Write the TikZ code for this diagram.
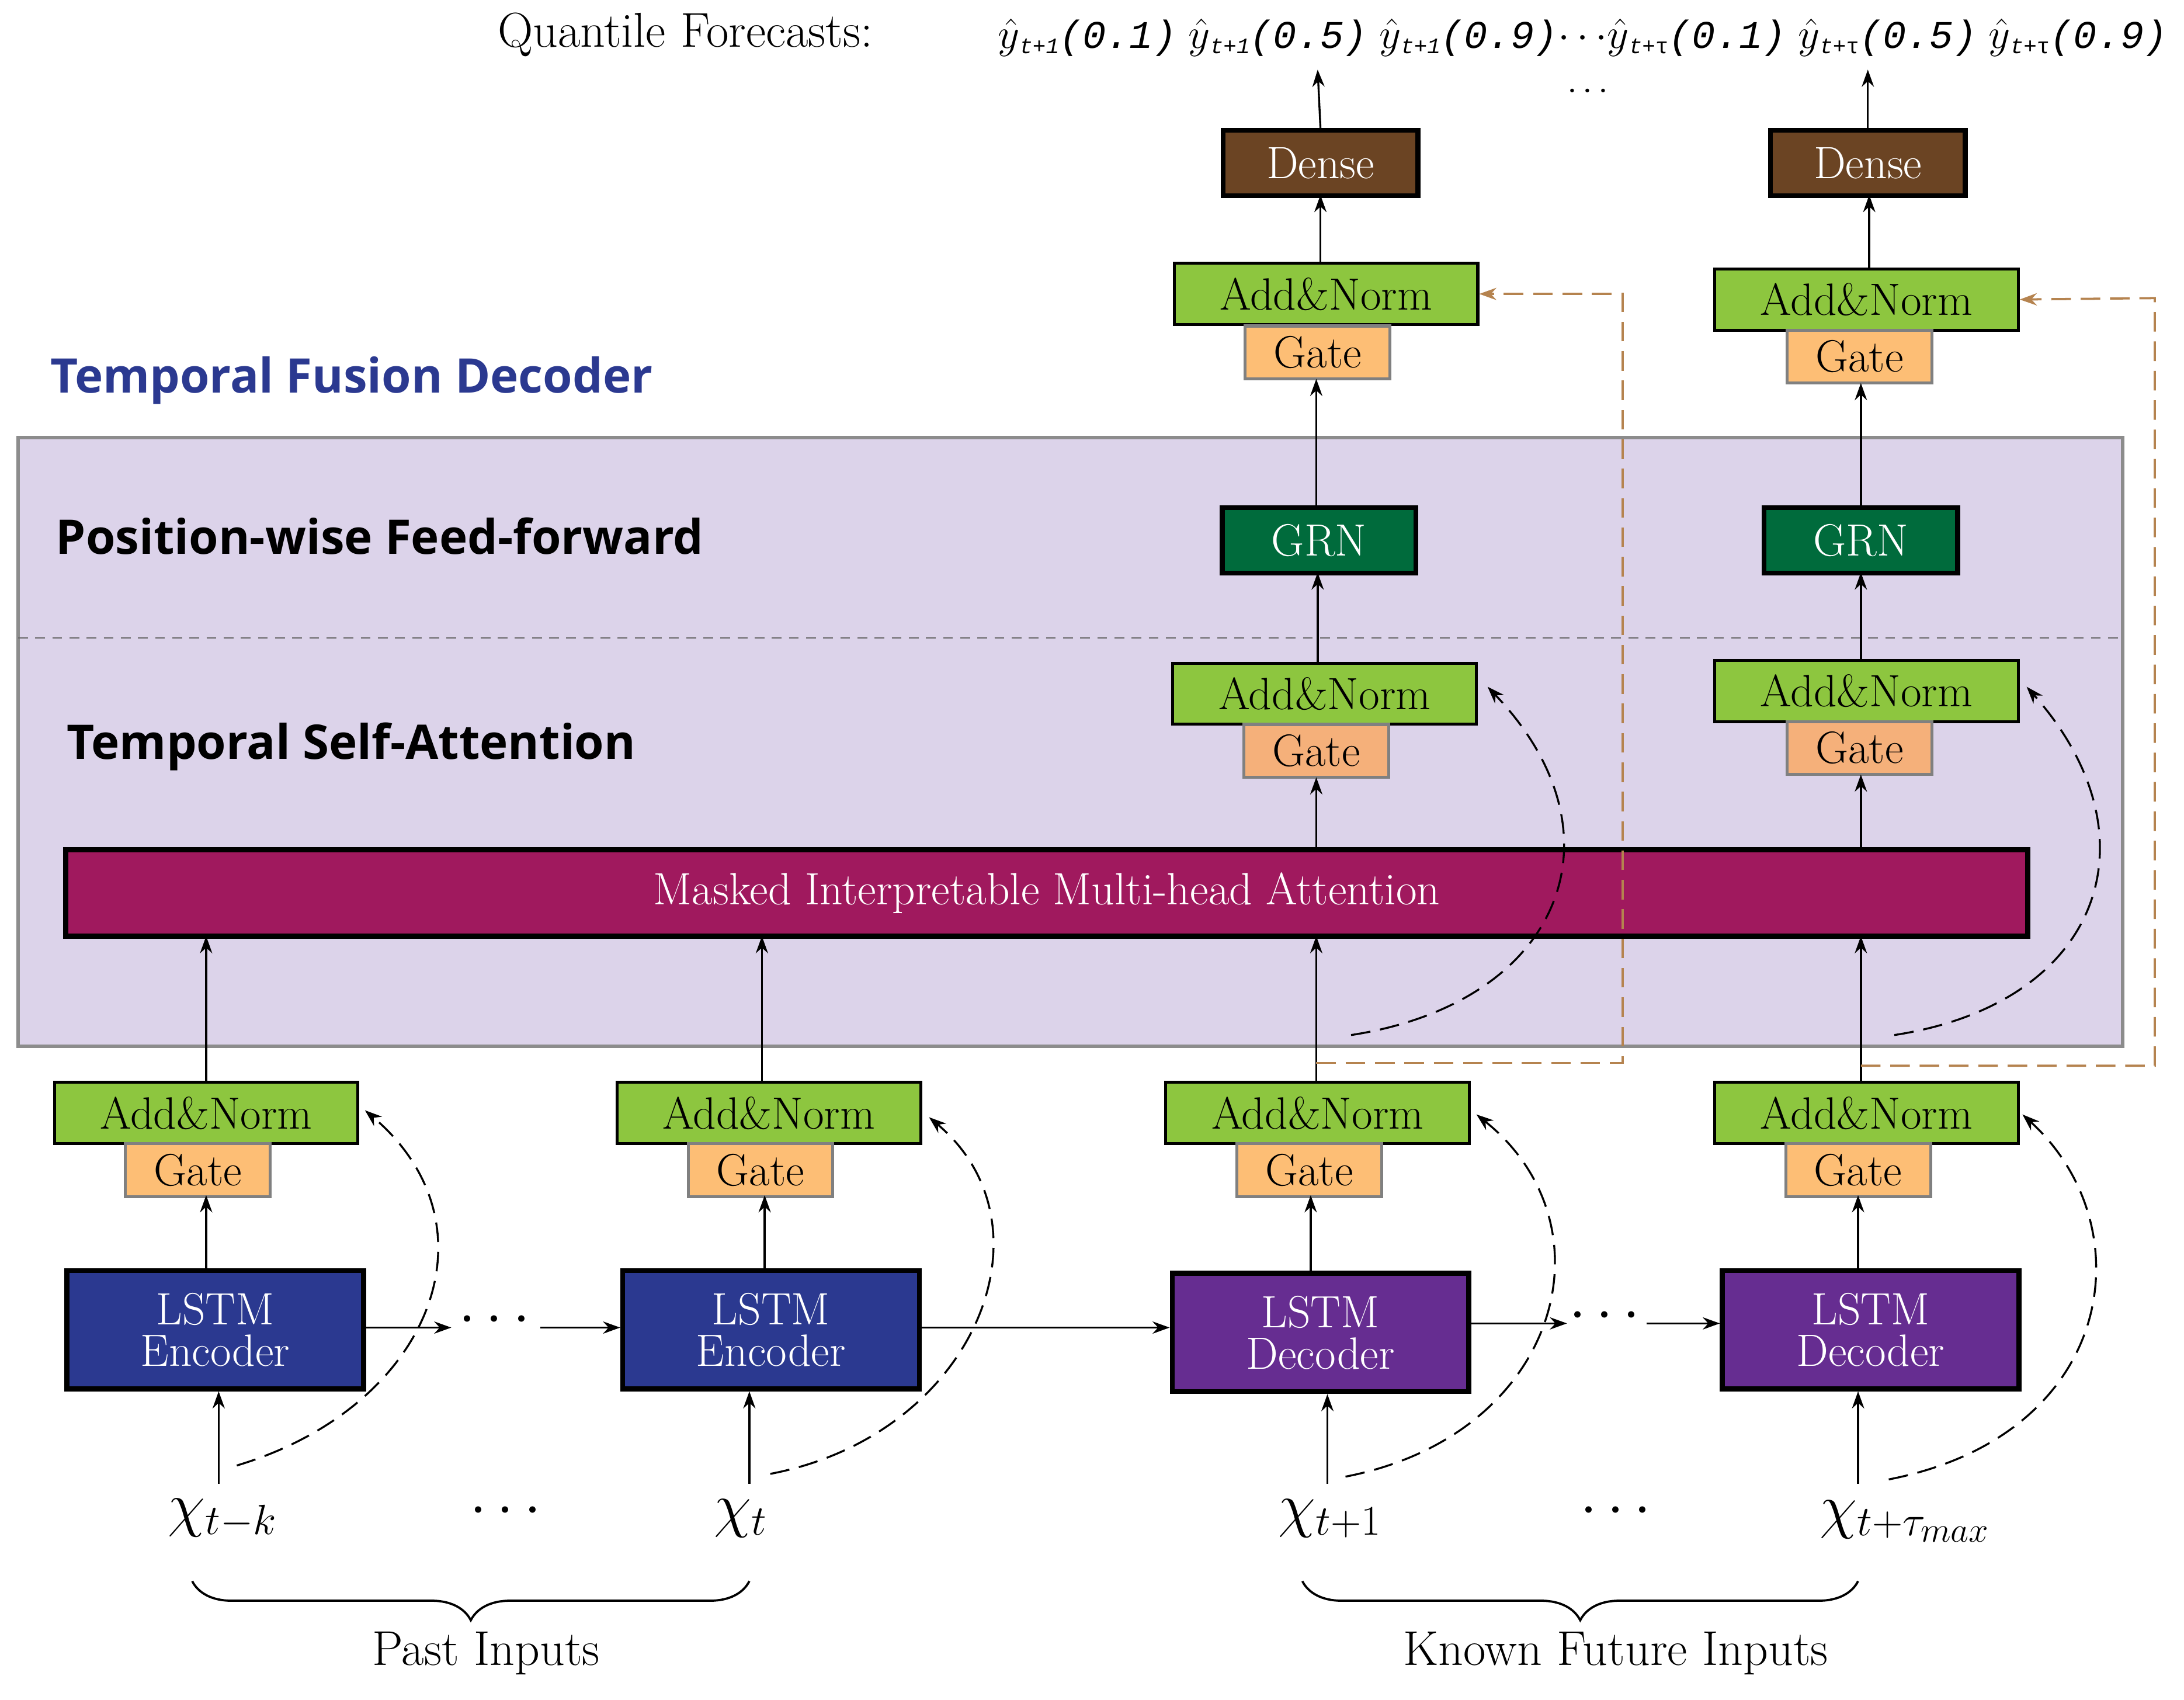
\documentclass[tikz,border=0pt]{standalone}
\usepackage{fontspec}
\newfontfamily\hsans{Open Sans}
\newfontfamily\mono{Liberation Mono}
\usetikzlibrary{decorations.pathreplacing,arrows.meta}
\definecolor{lav}{HTML}{DCD3EA}
\definecolor{angreen}{HTML}{8DC63F}
\definecolor{gateor}{HTML}{FDBE75}
\definecolor{gateor2}{HTML}{F5B07A}
\definecolor{densebr}{HTML}{6B4423}
\definecolor{grngr}{HTML}{006B3C}
\definecolor{attn}{HTML}{A0195E}
\definecolor{encb}{HTML}{2B3990}
\definecolor{decp}{HTML}{662D91}
\definecolor{tfd}{HTML}{2B3990}
\definecolor{skip}{HTML}{B5834F}
\tikzset{
 box/.style={draw=black,line width=1.2pt,inner sep=0pt,align=center,font=\fontsize{18.5}{20}\selectfont},
 an/.style={box,fill=angreen,minimum width=4.36cm,minimum height=0.88cm},
 gate/.style={box,draw=gray,fill=gateor,minimum width=2.08cm,minimum height=0.76cm},
 dense/.style={box,fill=densebr,text=white,line width=2pt,minimum width=2.8cm,minimum height=0.94cm},
 grn/.style={box,fill=grngr,text=white,line width=2pt,minimum width=2.78cm,minimum height=0.94cm},
 lstm/.style={box,text=white,line width=2pt,minimum width=4.26cm,minimum height=1.7cm,font=\fontsize{18.5}{17}\selectfont},
 arr/.style={-{Stealth[length=7pt,width=5pt]},line width=0.8pt},
 darr/.style={-{Stealth[length=7pt,width=5pt]},line width=0.8pt,dash pattern=on 8pt off 4pt},
 oarr/.style={-{Stealth[length=7pt,width=5pt]},line width=0.9pt,draw=skip,dash pattern=on 8pt off 4pt},
 head/.style={font=\hsans\bfseries\fontsize{19.5}{22}\selectfont,anchor=west},
 xin/.style={font=\fontsize{27}{28}\selectfont},
 lab/.style={font=\fontsize{20}{22}\selectfont},
 brc/.style={decorate,decoration={brace,amplitude=16pt,mirror},line width=0.9pt}
}
\newcommand{\yh}[2]{$\hat{y}$\raisebox{-0.3ex}{\fontsize{9}{10}\selectfont\mono\itshape #1}{\mono\itshape(#2)}}
\begin{document}
\begin{tikzpicture}[x=0.02cm,y=-0.02cm]
\useasboundingbox (0,0) rectangle (1568,1220);
% background panel
\draw[fill=lav,draw=gray!90,line width=1.5pt] (13,314) rectangle (1524,751);
\draw[dash pattern=on 4pt off 3pt,gray!80!black,line width=0.6pt] (13,458) -- (1524,458);
\node[head,text=tfd] (tfdl) at (30,273) {Temporal Fusion Decoder};
\node[head] (pwff) at (34,385) {Position-wise Feed-forward};
\node[head] (tsa) at (42,536) {Temporal Self-Attention};
% top text
\node[lab] (qf) at (492,25) {Quantile Forecasts:};
\node[font=\fontsize{16}{18}\selectfont,anchor=west,inner sep=0pt] (fc) at (716,27) {\yh{t+1}{0.1}\ \yh{t+1}{0.5}\ \yh{t+1}{0.9}$\cdots$\yh{t+\textup{\char"03C4}}{0.1}\ \yh{t+\textup{\char"03C4}}{0.5}\ \yh{t+\textup{\char"03C4}}{0.9}};
\node[font=\fontsize{14}{16}\selectfont] (tdots) at (1140,66) {$\cdots$};
\coordinate (o1) at (946,50);
\coordinate (o2) at (1341,50);
% dense
\node[dense] (d1) at (948,117) {Dense};
\node[dense] (d2) at (1341,117) {Dense};
% top add norm
\node[an] (ta1) at (952,211) {Add\&Norm};
\node[gate] (tg1) at (946,253) {Gate};
\node[an] (ta2) at (1340,215) {Add\&Norm};
\node[gate] (tg2) at (1335,256) {Gate};
% GRN
\node[grn] (g1) at (947,388) {GRN};
\node[grn] (g2) at (1336,388) {GRN};
% mid add norm
\node[an] (ma1) at (951,498) {Add\&Norm};
\node[gate,fill=gateor2] (mg1) at (945,539) {Gate};
\node[an] (ma2) at (1340,496) {Add\&Norm};
\node[gate,fill=gateor2] (mg2) at (1335,537) {Gate};
% attention
\node[box,fill=attn,text=white,line width=2pt,minimum width=28.18cm,minimum height=1.24cm] (att) at (751.5,641) {Masked Interpretable Multi-head Attention};
% bottom add norm
\foreach \i/\x in {1/148,2/552,3/946,4/1340}{
 \node[an] (ba\i) at (\x,799) {Add\&Norm};
 \node[gate] (bg\i) at (\x-6,840) {Gate};
}
% LSTMs
\node[lstm,fill=encb] (l1) at (154.5,954.5) {LSTM\\Encoder};
\node[lstm,fill=encb] (l2) at (553.5,954.5) {LSTM\\Encoder};
\node[lstm,fill=decp] (l3) at (948,956.5) {LSTM\\Decoder};
\node[lstm,fill=decp] (l4) at (1343,954.5) {LSTM\\Decoder};
% inputs
\node[xin] (x1) at (160,1090) {$\chi_{t-k}$};
\node[xin] (x2) at (532,1090) {$\chi_{t}$};
\node[xin] (x3) at (955,1090) {$\chi_{t+1}$};
\node[xin] (x4) at (1368,1092) {$\chi_{t+\tau_{max}}$};
\node[xin] (xd1) at (363,1085) {$\cdots$};
\node[xin] (xd2) at (1160,1085) {$\cdots$};
\coordinate (b1a) at (138,1135); \coordinate (b1b) at (538,1135);
\coordinate (b2a) at (935,1135); \coordinate (b2b) at (1334,1135);
\draw[brc] (b1a) -- (b1b);
\draw[brc] (b2a) -- (b2b);
\node[lab] (pi) at (349,1187) {Past Inputs};
\node[lab] (kfi) at (1160,1187) {Known Future Inputs};
% input arrows
\foreach \i/\x in {1/157,2/538,3/953,4/1334}{
 \coordinate (xs\i) at (\x,1065);
 \draw[arr] (xs\i) -- (xs\i |- l\i.south);
}
% LSTM to gate
\foreach \i/\x in {1/148,2/549,3/941,4/1334}{
 \draw[arr] (\x,912) -- (\x,858);
}
% add norm to attention
\foreach \i/\x in {1/148,2/547,3/945,4/1336}{
 \draw[arr] (\x,777) -- (\x,672);
}
% horizontal lstm chain
\node[xin] (hd1) at (355,948) {$\cdots$};
\node[xin] (hd2) at (1152,945) {$\cdots$};
\draw[arr] (l1.east |- 0,953) -- (324,953);
\draw[arr] (388,953) -- (l2.west |- 0,953);
\draw[arr] (l2.east |- 0,953) -- (l3.west |- 0,953);
\draw[arr] (l3.east |- 0,950) -- (1125,950);
\draw[arr] (1182,950) -- (l4.west |- 0,950);
% dashed residual curves bottom
\draw[darr] (170,1052) .. controls (310,1010) and (360,880) .. (262,797);
\draw[darr] (553,1058) .. controls (700,1030) and (760,880) .. (667,802);
\draw[darr] (966,1060) .. controls (1120,1030) and (1160,880) .. (1060,800);
\draw[darr] (1356,1062) .. controls (1520,1030) and (1540,880) .. (1452,800);
% dashed residual curves attention
\draw[darr] (970,743) .. controls (1120,720) and (1170,600) .. (1068,493);
\draw[darr] (1360,743) .. controls (1510,720) and (1550,600) .. (1455,493);
% upper arrows
\draw[arr] (945,610) -- (945,558);
\draw[arr] (1336,610) -- (1336,556);
\draw[arr] (946,476) -- (946,411);
\draw[arr] (1336,474) -- (1336,411);
\draw[arr] (945,364) -- (945,272);
\draw[arr] (1336,364) -- (1336,275);
\draw[arr] (948,188) -- (948,140);
\draw[arr] (1342,192) -- (1342,140);
\draw[arr] (d1.north) -- (o1);
\draw[arr] (d2.north) -- (o2);
% orange skip
\draw[oarr] (945,763) -- (1165,763) -- (1165,211) -- (ta1.east);
\draw[oarr] (1336,765) -- (1547,765) -- (1547,214) -- (ta2.east);
\end{tikzpicture}
\end{document}
